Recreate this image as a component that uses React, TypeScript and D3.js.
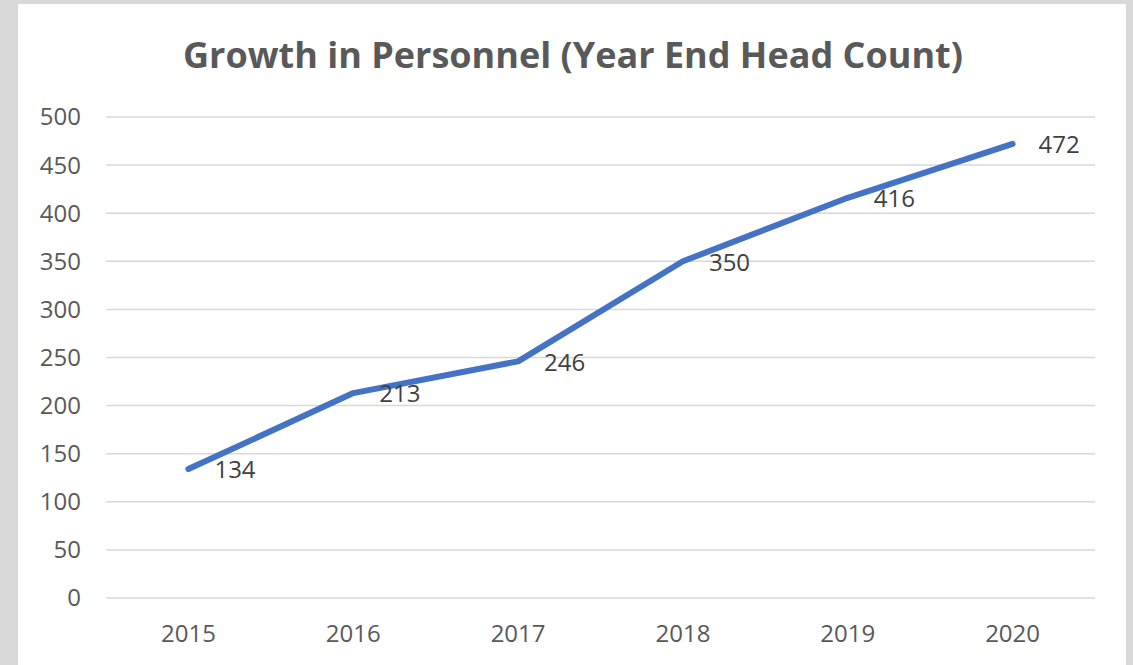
import React from 'react';
import * as d3 from 'd3';

const width = 1133;
const height = 665;
const years = ['2015', '2016', '2017', '2018', '2019', '2020'];
const headCount = [134, 213, 246, 350, 416, 472];
const yTicks = [0, 50, 100, 150, 200, 250, 300, 350, 400, 450, 500];
const title = 'Growth in Personnel (Year End Head Count)';

const font = '"Open Sans", sans-serif';

export default function App() {
  const x = d3.scaleBand().domain(years).range([106, 1095]);
  const y = d3.scaleLinear().domain([0, 500]).range([598, 117]);

  const line = d3
    .line<number>()
    .x((d, i) => x(years[i])! + x.bandwidth() / 2)
    .y(d => y(d));

  return (
    <svg width={width} height={height} style={{ position: 'absolute', left: 0, top: 0, display: 'block' }}>
      <rect x={0} y={0} width={width} height={height} fill="#d9d9d9" />
      <rect x={18} y={4} width={1108} height={height - 4} fill="#ffffff" />
      <text x={573} y={68} textAnchor="middle" fontFamily={font} fontWeight="bold" fontSize={36} fill="#595959">
        {title}
      </text>
      {yTicks.map(t => (
        <g key={t}>
          <line x1={106} x2={1095} y1={y(t)} y2={y(t)} stroke="#d9d9d9" strokeWidth={1.5} />
          <text x={81} y={y(t)} dy="0.35em" textAnchor="end" fontFamily={font} fontSize={24} fill="#595959">
            {t}
          </text>
        </g>
      ))}
      {years.map(yr => (
        <text key={yr} x={x(yr)! + x.bandwidth() / 2} y={634} dy="0.35em" textAnchor="middle" fontFamily={font} fontSize={24} fill="#595959">
          {yr}
        </text>
      ))}
      <path d={line(headCount)!} fill="none" stroke="#4472c4" strokeWidth={6} strokeLinecap="round" strokeLinejoin="round" />
      {headCount.map((v, i) => (
        <text key={i} x={x(years[i])! + x.bandwidth() / 2 + 26} y={y(v) + 1} dy="0.35em" fontFamily={font} fontSize={24} fill="#404040">
          {v}
        </text>
      ))}
    </svg>
  );
}
